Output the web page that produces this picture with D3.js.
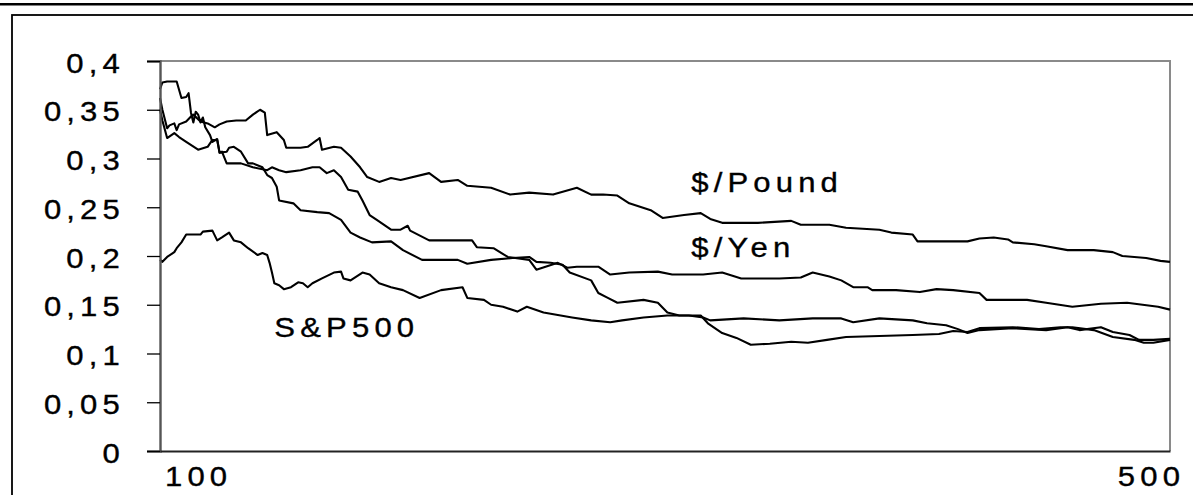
<!DOCTYPE html>
<html><head><meta charset="utf-8">
<script src="https://cdn.jsdelivr.net/npm/d3@7"></script>
<style>body{margin:0;background:#fff}svg{display:block}</style>
</head><body>
<svg id="c" width="1193" height="495"></svg>
<script>
// ---- data (t = observation index, v = value) ----
const pound = [[84,0.362],[85,0.350],[87,0.331],[88,0.334],[90,0.336],[91,0.329],[92,0.335],[95,0.338],[97,0.343],[98,0.345],[101,0.338],[104,0.336],[107,0.332],[109,0.335],[112,0.338],[116,0.339],[120,0.339],[123,0.345],[126,0.350],[128,0.347],[129,0.324],[133,0.327],[136,0.319],[137,0.311],[143,0.311],[146,0.312],[150,0.319],[151,0.321],[152,0.309],[157,0.312],[160,0.311],[164,0.302],[168,0.291],[171,0.281],[176,0.276],[181,0.280],[185,0.278],[197,0.285],[202,0.276],[209,0.278],[213,0.272],[223,0.270],[231,0.263],[239,0.265],[249,0.263],[259,0.270],[265,0.263],[270,0.263],[276,0.262],[281,0.254],[290,0.247],[295,0.239],[304,0.242],[311,0.244],[315,0.238],[320,0.234],[335,0.234],[349,0.236],[353,0.232],[365,0.232],[372,0.229],[386,0.227],[391,0.224],[400,0.222],[402,0.215],[411,0.215],[423,0.215],[428,0.218],[434,0.219],[440,0.217],[442,0.214],[451,0.212],[456,0.210],[465,0.206],[476,0.206],[484,0.204],[488,0.200],[498,0.198],[504,0.195],[508,0.194]];
const yen = [[84,0.350],[85,0.339],[87,0.321],[90,0.326],[92,0.322],[95,0.317],[100,0.309],[104,0.312],[106,0.319],[108,0.319],[109,0.306],[110,0.307],[112,0.295],[118,0.295],[123,0.291],[129,0.288],[131,0.291],[134,0.288],[137,0.286],[143,0.288],[148,0.291],[151,0.291],[154,0.285],[157,0.288],[160,0.281],[163,0.268],[167,0.266],[169,0.257],[172,0.242],[175,0.237],[181,0.227],[185,0.227],[188,0.231],[189,0.226],[197,0.216],[215,0.216],[217,0.209],[224,0.208],[230,0.199],[239,0.196],[242,0.186],[251,0.193],[255,0.188],[259,0.189],[268,0.189],[273,0.181],[281,0.183],[293,0.184],[299,0.181],[312,0.181],[320,0.183],[328,0.177],[335,0.177],[344,0.177],[353,0.178],[358,0.183],[365,0.179],[370,0.175],[375,0.168],[381,0.168],[383,0.165],[393,0.165],[403,0.163],[410,0.166],[417,0.165],[428,0.162],[431,0.155],[448,0.155],[456,0.152],[467,0.148],[479,0.151],[490,0.152],[503,0.148],[508,0.145]];
const fourth = [[84,0.371],[85,0.378],[87,0.379],[91,0.379],[93,0.362],[95,0.363],[96,0.367],[97,0.347],[98,0.337],[99,0.348],[100,0.345],[101,0.337],[102,0.342],[103,0.332],[105,0.324],[106,0.317],[108,0.320],[109,0.306],[112,0.307],[113,0.311],[115,0.312],[118,0.307],[121,0.295],[123,0.295],[127,0.291],[129,0.283],[131,0.280],[133,0.271],[134,0.257],[140,0.254],[143,0.247],[150,0.245],[155,0.244],[160,0.237],[164,0.224],[168,0.219],[173,0.214],[181,0.215],[186,0.206],[194,0.196],[209,0.196],[213,0.192],[223,0.196],[232,0.198],[239,0.199],[242,0.194],[248,0.193],[253,0.191],[256,0.183],[265,0.175],[268,0.162],[272,0.157],[276,0.152],[287,0.155],[293,0.152],[297,0.142],[302,0.139],[311,0.139],[314,0.131],[320,0.121],[326,0.116],[332,0.109],[340,0.110],[349,0.112],[356,0.111],[364,0.114],[372,0.117],[386,0.118],[400,0.119],[411,0.120],[417,0.123],[423,0.122],[428,0.126],[442,0.127],[453,0.125],[462,0.127],[467,0.127],[476,0.124],[484,0.117],[493,0.114],[497,0.111],[501,0.111],[508,0.114]];
const sp500 = [[84,0.196],[85,0.194],[87,0.199],[90,0.204],[91,0.208],[93,0.214],[95,0.222],[101,0.222],[102,0.225],[106,0.226],[108,0.216],[110,0.219],[113,0.224],[115,0.216],[118,0.214],[121,0.208],[125,0.201],[127,0.203],[129,0.201],[130,0.193],[131,0.183],[132,0.172],[134,0.170],[136,0.166],[139,0.168],[142,0.173],[144,0.172],[146,0.168],[148,0.172],[152,0.177],[157,0.183],[160,0.184],[161,0.177],[164,0.175],[169,0.183],[172,0.181],[176,0.172],[181,0.168],[186,0.165],[193,0.157],[202,0.165],[211,0.168],[213,0.157],[220,0.155],[223,0.150],[228,0.148],[234,0.143],[238,0.148],[245,0.142],[257,0.137],[265,0.134],[273,0.132],[278,0.134],[287,0.137],[297,0.139],[306,0.139],[312,0.137],[315,0.134],[329,0.136],[344,0.134],[358,0.136],[370,0.136],[375,0.132],[386,0.136],[400,0.134],[406,0.131],[414,0.129],[419,0.125],[423,0.121],[428,0.124],[442,0.126],[456,0.124],[465,0.127],[470,0.124],[479,0.127],[484,0.122],[491,0.119],[495,0.114],[501,0.114],[508,0.115]];
const allSeries = [pound, yen, fourth, sp500];
const yTicks = [0,0.05,0.1,0.15,0.2,0.25,0.3,0.35,0.4];
const xTicks = [100,500];
const seriesLabels = ["$/Pound","$/Yen","S&P500"];
const labelT = [307,307,132];
const labelV = [0.2656,0.1985,0.117];

// ---- layout ----
const svg = d3.select("#c");
const x = d3.scaleLinear().domain([84,508]).range([160,1170]);
const y = d3.scaleLinear().domain([0,0.4]).range([451,61]);
const font = "'Liberation Sans', Arial, sans-serif";
const FS = 27, SX = 1.15, LS = 4.5;
const fmt = d => d === 0 ? "0" : String(d).replace(".", ",");
const styleText = sel => sel.attr("fill","#000").attr("stroke","#000").attr("stroke-width",0.35)
  .style("font-family",font).style("font-size",FS+"px").style("letter-spacing",LS+"px");

// outer frame
svg.append("line").attr("x1",0).attr("x2",1193).attr("y1",4.3).attr("y2",4.3)
  .attr("stroke","#000").attr("stroke-width",2.4);
svg.append("rect").attr("x",12).attr("y",15).attr("width",1300).attr("height",600)
  .attr("fill","none").attr("stroke","#000").attr("stroke-width",1.8);

// plot border (top/right grey)
svg.append("path")
  .attr("d",`M${x(84)},${y(0.4)}H${x(508)}V${y(0)}`)
  .attr("fill","none").attr("stroke","#8a8a8a").attr("stroke-width",2);

// lines
const line = d3.line().x(d=>x(d[0])).y(d=>y(d[1]));
svg.append("g").selectAll("path").data(allSeries).join("path")
  .attr("d",line).attr("fill","none").attr("stroke","#000")
  .attr("stroke-width",2.1).attr("stroke-linejoin","round");

// y axis
const ya = svg.append("g").attr("transform",`translate(${x(84)},0)`)
  .call(d3.axisLeft(y).tickValues(yTicks).tickSize(13).tickFormat(fmt));
ya.select(".domain").attr("stroke","#555").attr("stroke-width",2.4);
ya.selectAll(".tick line").attr("stroke","#000").attr("stroke-width",1.3);
ya.selectAll(".tick text").attr("x",null).attr("dy",null)
  .attr("transform",`translate(-35,11) scale(${SX},1)`)
  .attr("text-anchor","end").call(styleText);

// x axis
const xa = svg.append("g").attr("transform",`translate(0,${y(0)})`)
  .call(d3.axisBottom(x).tickValues(xTicks).tickSize(0).tickFormat(d3.format("d")));
xa.select(".domain").attr("stroke","#222").attr("stroke-width",1.8);
xa.selectAll(".tick text").attr("y",null).attr("dy",null)
  .attr("transform",`translate(0,34.5) scale(${SX},1)`)
  .attr("text-anchor","middle").call(styleText);

// series labels
svg.append("g").selectAll("text").data(seriesLabels).join("text")
  .attr("transform",(d,i)=>`translate(${x(labelT[i])},${y(labelV[i])}) scale(${SX},1)`)
  .text(d=>d).call(styleText);
</script>
</body></html>
